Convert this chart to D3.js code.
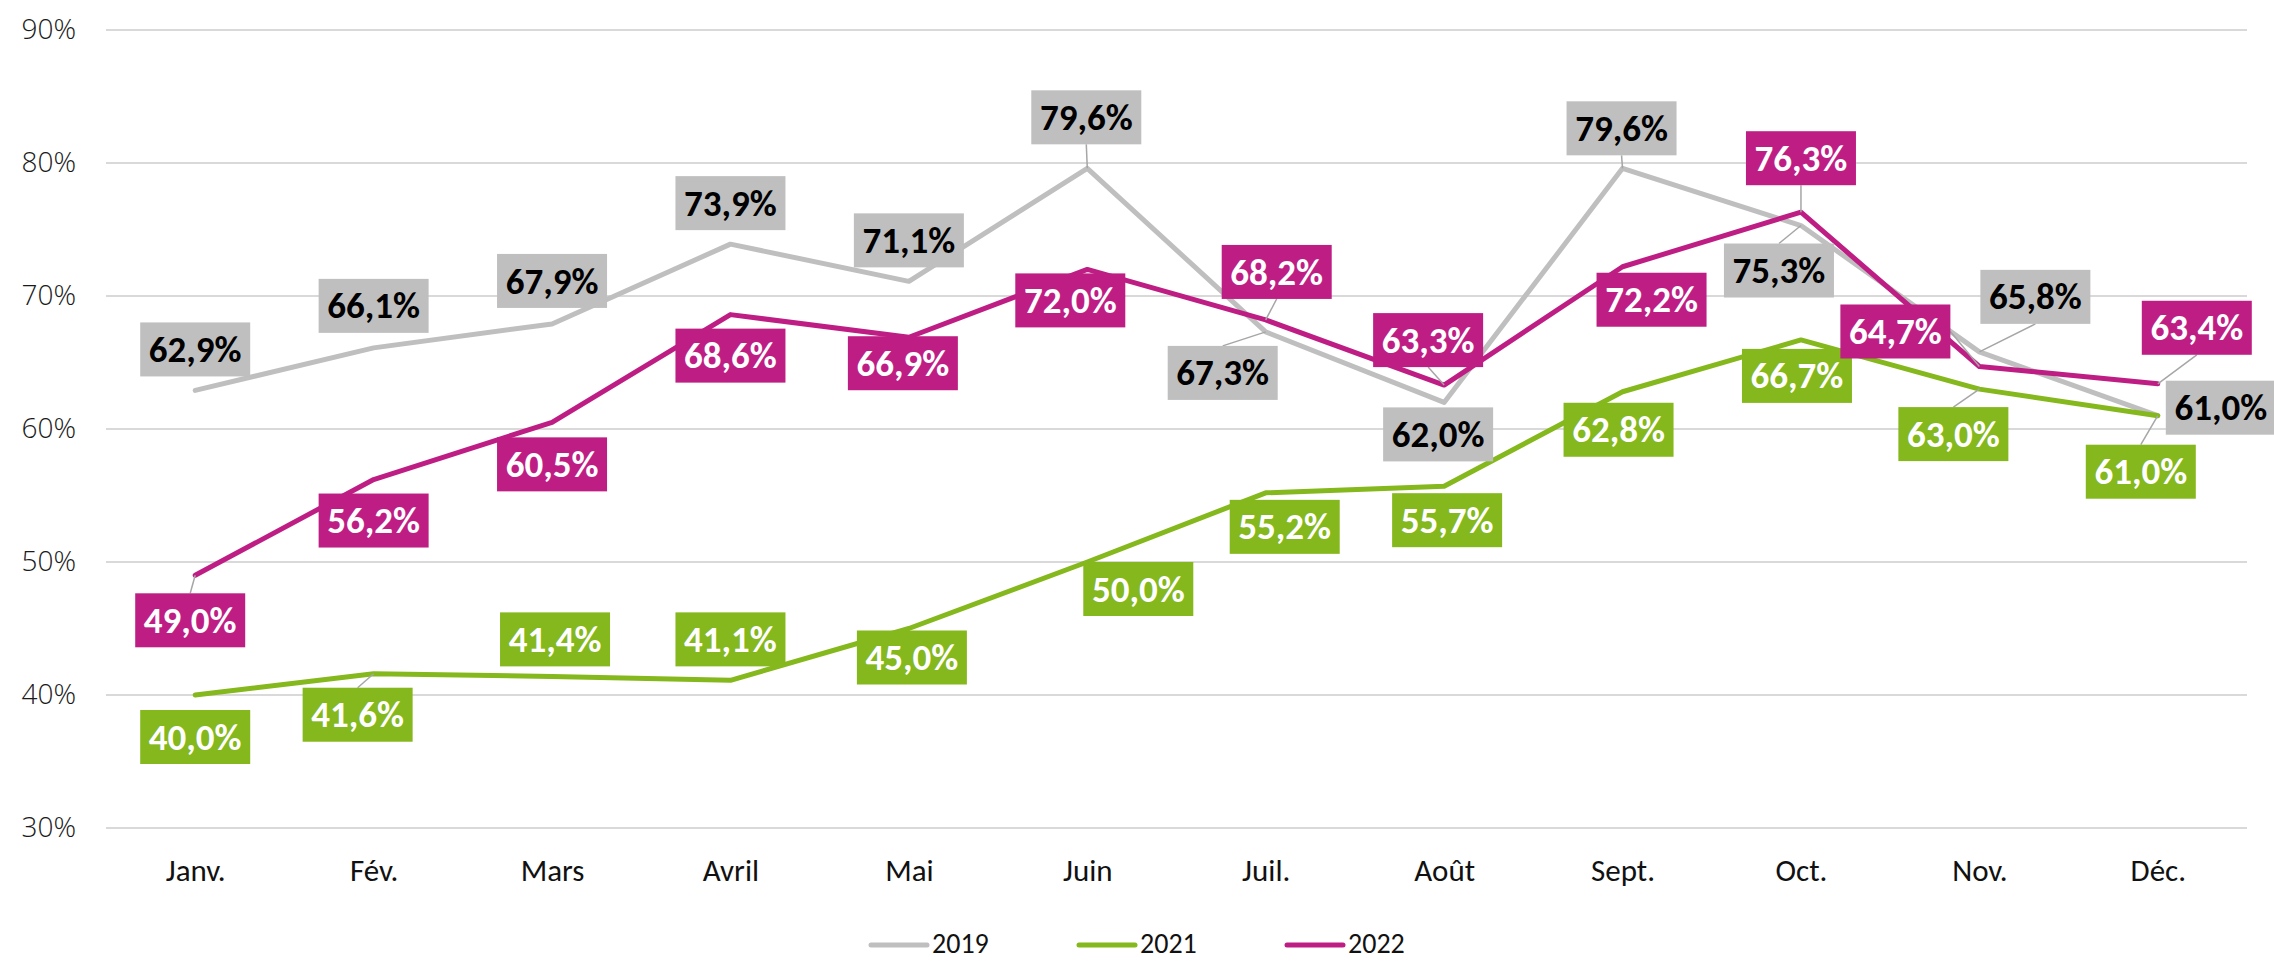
<!DOCTYPE html>
<html>
<head>
<meta charset="utf-8">
<script src="https://cdn.jsdelivr.net/npm/d3@7"></script>
<style>
  html, body { margin: 0; padding: 0; background: #fff; }
  svg { display: block; }
</style>
</head>
<body>
<script>
// ---- Data ----
const months = ["Janv.", "Fév.", "Mars", "Avril", "Mai", "Juin", "Juil.", "Août", "Sept.", "Oct.", "Nov.", "Déc."];
const values2019 = [62.9, 66.1, 67.9, 73.9, 71.1, 79.6, 67.3, 62.0, 79.6, 75.3, 65.8, 61.0];
const values2021 = [40.0, 41.6, 41.4, 41.1, 45.0, 50.0, 55.2, 55.7, 62.8, 66.7, 63.0, 61.0];
const values2022 = [49.0, 56.2, 60.5, 68.6, 66.9, 72.0, 68.2, 63.3, 72.2, 76.3, 64.7, 63.4];
const seriesNames = ["2019", "2021", "2022"];
const yTicks = [30, 40, 50, 60, 70, 80, 90];

// ---- Layout (label placement, px offsets of label centre from its point) ----
const offsets2019 = [[0,-41],[0,-42],[0,-43],[0,-41],[0,-41],[-1,-51],[-43,41],[-6,32],[-1,-40],[-22,45],[56,-55],[63,-8]];
const offsets2021 = [[0,42],[-16,41],[3,-37],[0,-41],[3,29],[51,27],[19,34],[3,34],[-4,38],[-4,36],[-26,45],[-17,56]];
const offsets2022 = [[-5,45],[0,41],[0,42],[0,41],[-6,26],[-17,31],[11,-48],[-16,-45],[29,33],[0,-54],[-84,-35],[39,-56]];
const leaders2019 = [0,0,0,0,0,1,1,0,1,1,1,0];
const leaders2021 = [0,1,0,0,0,0,0,0,0,0,1,1];
const leaders2022 = [1,0,0,0,0,0,1,1,0,1,1,1];

const colors = ["#BFBFBF", "#84B81C", "#BE1E84"];
const labelTextColors = ["#000000", "#FFFFFF", "#FFFFFF"];

const series = [
  { name: seriesNames[0], values: values2019, offsets: offsets2019, leaders: leaders2019, color: colors[0], text: labelTextColors[0] },
  { name: seriesNames[1], values: values2021, offsets: offsets2021, leaders: leaders2021, color: colors[1], text: labelTextColors[1] },
  { name: seriesNames[2], values: values2022, offsets: offsets2022, leaders: leaders2022, color: colors[2], text: labelTextColors[2] }
];

const W = 2274, H = 961;
const plot = { left: 106, right: 2247, top: 30, bottom: 828 };
const calibri = "Carlito, Calibri, 'Open Sans', sans-serif";

const svg = d3.select("body").append("svg").attr("width", W).attr("height", H);

const x = d3.scalePoint().domain(months).range([plot.left, plot.right]).padding(0.5);
const y = d3.scaleLinear().domain([30, 90]).range([plot.bottom, plot.top]);

// gridlines
svg.append("g").selectAll("line").data(yTicks).join("line")
  .attr("x1", plot.left).attr("x2", plot.right)
  .attr("y1", d => y(d)).attr("y2", d => y(d))
  .attr("stroke", "#D9D9D9").attr("stroke-width", 2);

// y axis
const yAxis = d3.axisLeft(y).tickValues(yTicks).tickFormat(d => d + "%").tickSize(0).tickPadding(0);
const gy = svg.append("g").attr("transform", `translate(${plot.left - 30},0)`).call(yAxis);
gy.select(".domain").remove();
gy.selectAll("text").attr("font-family", "'Open Sans', sans-serif").attr("font-weight", 300)
  .attr("font-size", 28).attr("fill", "#1a1a1a");

// x axis
const xAxis = d3.axisBottom(x).tickSize(0).tickPadding(0);
const gx = svg.append("g").attr("transform", `translate(0,${plot.bottom + 42})`).call(xAxis);
gx.select(".domain").remove();
gx.selectAll("text").attr("font-family", calibri).attr("font-size", 31)
  .attr("fill", "#111").attr("dy", "0.35em");

// lines
const line = d3.line().x((d, i) => x(months[i])).y(d => y(d));
svg.append("g").selectAll("path").data(series).join("path")
  .attr("d", s => line(s.values))
  .attr("fill", "none").attr("stroke", s => s.color).attr("stroke-width", 5)
  .attr("stroke-linejoin", "round").attr("stroke-linecap", "round");

// labels
const BW = 110, BH = 54;
const fmt = v => v.toFixed(1).replace(".", ",") + "%";
series.forEach(s => {
  const g = svg.append("g");
  s.values.forEach((v, i) => {
    const px = x(months[i]), py = y(v);
    const cx = px + s.offsets[i][0], cy = py + s.offsets[i][1];
    if (s.leaders[i]) {
      const rx = px - cx, ry = py - cy;
      let ax, ay;
      if (Math.abs(rx) / (BW / 2) > Math.abs(ry) / (BH / 2)) {
        ax = cx + Math.sign(rx) * BW / 2; ay = cy;
      } else {
        ax = cx; ay = cy + Math.sign(ry) * BH / 2;
      }
      g.append("line").attr("x1", ax).attr("y1", ay).attr("x2", px).attr("y2", py)
        .attr("stroke", "#A6A6A6").attr("stroke-width", 1.5);
    }
    g.append("rect").attr("x", cx - BW / 2).attr("y", cy - BH / 2)
      .attr("width", BW).attr("height", BH).attr("fill", s.color);
    g.append("text").attr("x", cx).attr("y", cy).attr("dy", "0.34em")
      .attr("text-anchor", "middle")
      .attr("font-family", calibri).attr("font-weight", 700)
      .attr("font-size", 37).attr("fill", s.text)
      .text(fmt(v));
  });
});

// legend
const legendX = [871, 1079, 1287];
const legend = svg.append("g");
series.forEach((s, i) => {
  legend.append("line").attr("x1", legendX[i]).attr("x2", legendX[i] + 56)
    .attr("y1", 945).attr("y2", 945)
    .attr("stroke", s.color).attr("stroke-width", 5).attr("stroke-linecap", "round");
  legend.append("text").attr("x", legendX[i] + 61).attr("y", 945).attr("dy", "0.3em")
    .attr("font-family", calibri).attr("font-size", 28).attr("fill", "#111")
    .text(s.name);
});
</script>
</body>
</html>
